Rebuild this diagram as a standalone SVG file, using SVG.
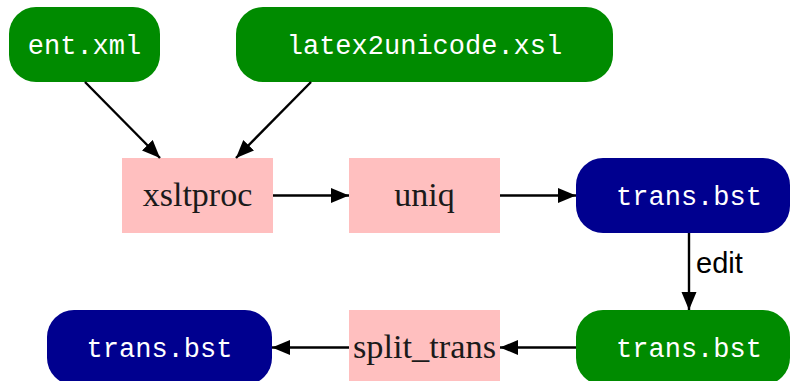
<svg xmlns="http://www.w3.org/2000/svg" width="790" height="381" viewBox="0 0 790 381">
<style>
.green{fill:#008b00}
.blue{fill:#00008f}
.pink{fill:#ffbfbf}
.mono{font-family:"Liberation Mono","DejaVu Sans Mono",monospace;font-size:27px;fill:#ffffff;text-anchor:middle}
.serif{font-family:"Liberation Serif","DejaVu Serif",serif;font-size:34px;fill:#1a1a1a;text-anchor:middle}
.lbl{font-family:"Liberation Sans","DejaVu Sans",sans-serif;font-size:29px;fill:#000}
.edge{stroke:#000;stroke-width:2.4;fill:none;marker-end:url(#arr)}
</style>
<defs>
<marker id="arr" markerUnits="userSpaceOnUse" markerWidth="20" markerHeight="16" refX="18" refY="7.5" orient="auto">
<path d="M0,0 L18,7.5 L0,15 z" fill="#000"/>
</marker>
</defs>
<g id="ent_xml"><rect class="green" x="9" y="7" width="151" height="75" rx="27"/><text class="mono" x="84.5" y="54">ent.xml</text></g>
<g id="latex2unicode"><rect class="green" x="236" y="7" width="377" height="75" rx="27"/><text class="mono" x="424.5" y="54">latex2unicode.xsl</text></g>
<g id="xsltproc"><rect class="pink" x="122" y="158" width="151" height="75"/><text class="serif" x="197.5" y="206">xsltproc</text></g>
<g id="uniq"><rect class="pink" x="349" y="158" width="151" height="75"/><text class="serif" x="424.5" y="206">uniq</text></g>
<g id="trans_bst_1"><rect class="blue" x="576" y="158" width="214" height="75" rx="27"/><text class="mono" x="689" y="205">trans.bst</text></g>
<g id="trans_bst_2"><rect class="green" x="576" y="310" width="214" height="75" rx="27"/><text class="mono" x="689" y="357">trans.bst</text></g>
<g id="split_trans"><rect class="pink" x="349" y="310" width="151" height="75"/><text class="serif" x="424.5" y="358" textLength="143" lengthAdjust="spacingAndGlyphs">split_trans</text></g>
<g id="trans_bst_3"><rect class="blue" x="47" y="310" width="225" height="75" rx="27"/><text class="mono" x="159.5" y="357">trans.bst</text></g>
<g id="connectors">
<line class="edge" x1="85" y1="82" x2="160" y2="158"/>
<line class="edge" x1="311" y1="82" x2="236" y2="158"/>
<line class="edge" x1="273" y1="195.5" x2="349" y2="195.5"/>
<line class="edge" x1="500" y1="195.5" x2="576" y2="195.5"/>
<line class="edge" x1="689" y1="233" x2="689" y2="310"/>
<text class="lbl" x="696" y="273">edit</text>
<line class="edge" x1="576" y1="347.5" x2="500" y2="347.5"/>
<line class="edge" x1="349" y1="347.5" x2="272" y2="347.5"/>
</g>
</svg>
